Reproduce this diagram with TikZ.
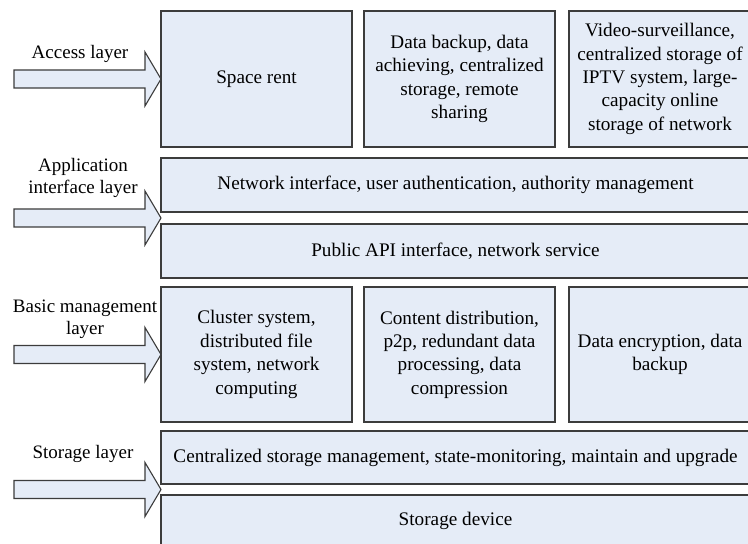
\documentclass[tikz,border=0pt]{standalone}
\usepackage{fontspec}
\setmainfont{Liberation Serif}
\definecolor{boxfill}{RGB}{229,236,247}
\definecolor{boxline}{RGB}{60,60,60}
\tikzset{
  layerbox/.style 2 args={draw=boxline, fill=boxfill, line width=0.55pt, inner sep=0pt,
    minimum width=#1*0.5pt, minimum height=#2*0.5pt, align=center,
    font=\fontsize{9.6}{11.7}\selectfont},
  layerlabel/.style={align=center, inner sep=0pt, font=\fontsize{9.5}{11.2}\selectfont},
  layerarrow/.style={draw=boxline, fill=boxfill, line width=0.55pt, line join=miter}
}
\newcommand{\blockarrow}[1]{%
  \draw[layerarrow] (14,#1-9) -- (145,#1-9) -- (145,#1-27) -- (161,#1) -- (145,#1+27)
    -- (145,#1+9) -- (14,#1+9) -- cycle;}
\begin{document}
\begin{tikzpicture}[x=0.5pt,y=-0.5pt]
\useasboundingbox (0,0) rectangle (748,544);
\clip (0,0) rectangle (748,544);
% access layer
\node[layerbox={191}{136}] (space) at (256.5,79) {Space rent};
\node[layerbox={191}{136}] (backup) at (459.5,79) {Data backup, data\\achieving, centralized\\storage, remote\\sharing};
\node[layerbox={182}{136}] (video) at (660,79) {Video-surveillance,\\centralized storage of\\IPTV system, large-\\capacity online\\storage of network};
% application interface layer
\node[layerbox={589}{54}] (netif) at (455.5,185) {Network interface, user authentication, authority management};
\node[layerbox={589}{54}] (api) at (455.5,251) {Public API interface, network service};
% basic management layer
\node[layerbox={191}{135}] (cluster) at (256.5,354.5) {Cluster system,\\distributed file\\system, network\\computing};
\node[layerbox={191}{135}] (content) at (459.5,354.5) {Content distribution,\\p2p, redundant data\\processing, data\\compression};
\node[layerbox={182}{135}] (encrypt) at (660,354.5) {Data encryption, data\\backup};
% storage layer
\node[layerbox={589}{53}] (centr) at (455.5,457.5) {Centralized storage management, state-monitoring, maintain and upgrade};
\node[layerbox={589}{52}] (device) at (455.5,521) {Storage device};
% arrows
\blockarrow{79}
\blockarrow{218}
\blockarrow{354.5}
\blockarrow{489.5}
% labels
\node[layerlabel] (lacc) at (80,54) {Access layer};
\node[layerlabel] (lapp) at (83,178) {Application\\interface layer};
\node[layerlabel] (lbas) at (85,319.5) {Basic management\\layer};
\node[layerlabel] (lsto) at (83,454) {Storage layer};
\end{tikzpicture}
\end{document}
